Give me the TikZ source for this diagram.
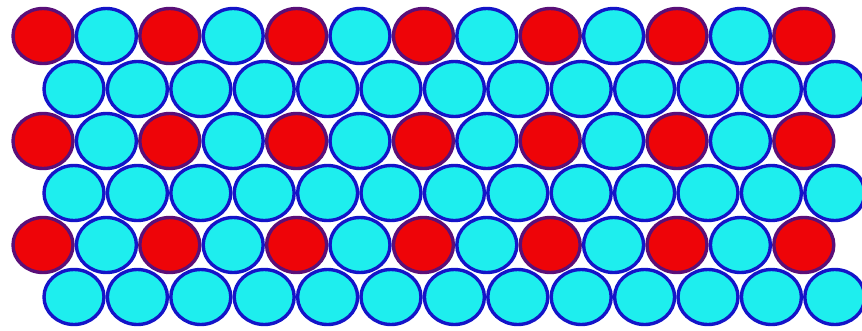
\documentclass[tikz,border=0pt]{standalone}
\usetikzlibrary{shapes.geometric}
\definecolor{cy}{RGB}{30,238,238}
\definecolor{rd}{RGB}{238,4,8}
\definecolor{bl}{RGB}{20,20,200}
\definecolor{rb}{RGB}{90,15,120}
\begin{document}
\begin{tikzpicture}[x=1pt,y=-1pt,
  ball/.style={ellipse,minimum width=60pt,minimum height=55pt,inner sep=0pt,line width=3.4pt},
  cball/.style={ball,draw=bl,fill=cy},
  rball/.style={ball,draw=rb,fill=rd}]
\useasboundingbox[fill=white] (0,0) rectangle (862,330);
\foreach \r/\y in {1/36,3/141,5/245}{
  \foreach \i in {0,...,12}{
    \pgfmathtruncatemacro{\odd}{mod(\i,2)}
    \ifnum\odd=0
      \node[rball] (c-\r-\i) at ({43+63.4*\i},\y) {};
    \else
      \node[cball] (c-\r-\i) at ({43+63.4*\i},\y) {};
    \fi
  }
}
\foreach \r/\y in {2/89,4/193,6/297}{
  \foreach \i in {0,...,12}{
    \node[cball] (c-\r-\i) at ({74+63.4*\i},\y) {};
  }
}
\end{tikzpicture}
\end{document}
